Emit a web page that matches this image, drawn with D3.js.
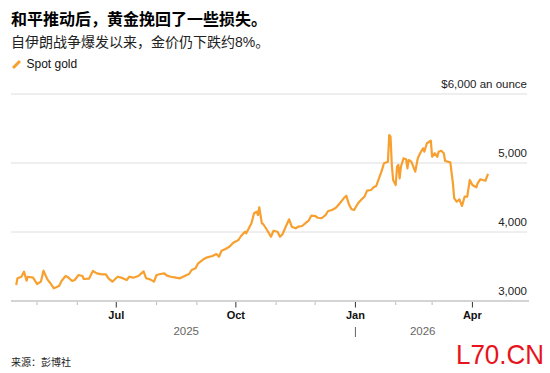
<!DOCTYPE html>
<html><head><meta charset="utf-8">
<script src="https://cdn.jsdelivr.net/npm/d3@7"></script>
<style>
body{margin:0;background:#fff;}
svg{display:block;font-family:"Liberation Sans",Arial,"Noto Sans CJK SC",sans-serif;}
</style></head>
<body><svg id="c" width="550" height="373"></svg>
<script>
const dates = ["2025-04-15","2025-04-16","2025-04-19","2025-04-21","2025-04-23","2025-04-24","2025-04-28","2025-05-01","2025-05-04","2025-05-06","2025-05-09","2025-05-11","2025-05-14","2025-05-18","2025-05-20","2025-05-23","2025-05-25","2025-05-28","2025-05-30","2025-06-02","2025-06-05","2025-06-06","2025-06-10","2025-06-13","2025-06-16","2025-06-20","2025-06-23","2025-06-25","2025-06-28","2025-07-02","2025-07-05","2025-07-09","2025-07-11","2025-07-14","2025-07-18","2025-07-22","2025-07-24","2025-07-27","2025-07-30","2025-08-01","2025-08-04","2025-08-07","2025-08-09","2025-08-12","2025-08-16","2025-08-19","2025-08-23","2025-08-26","2025-08-28","2025-08-31","2025-09-02","2025-09-06","2025-09-09","2025-09-13","2025-09-16","2025-09-18","2025-09-20","2025-09-23","2025-09-26","2025-09-29","2025-10-03","2025-10-05","2025-10-08","2025-10-09","2025-10-11","2025-10-13","2025-10-15","2025-10-17","2025-10-18","2025-10-19","2025-10-21","2025-10-22","2025-10-25","2025-10-28","2025-10-30","2025-11-02","2025-11-04","2025-11-06","2025-11-08","2025-11-11","2025-11-13","2025-11-16","2025-11-18","2025-11-21","2025-11-24","2025-11-26","2025-11-28","2025-12-01","2025-12-03","2025-12-06","2025-12-09","2025-12-11","2025-12-14","2025-12-17","2025-12-20","2025-12-23","2025-12-25","2025-12-27","2025-12-29","2025-12-31","2026-01-03","2026-01-06","2026-01-08","2026-01-10","2026-01-13","2026-01-15","2026-01-17","2026-01-21","2026-01-23","2026-01-26","2026-01-27","2026-01-28","2026-01-29","2026-01-30","2026-02-01","2026-02-02","2026-02-03","2026-02-04","2026-02-05","2026-02-07","2026-02-09","2026-02-10","2026-02-11","2026-02-13","2026-02-16","2026-02-18","2026-02-20","2026-02-22","2026-02-23","2026-02-25","2026-02-28","2026-03-01","2026-03-03","2026-03-05","2026-03-06","2026-03-08","2026-03-10","2026-03-11","2026-03-15","2026-03-17","2026-03-18","2026-03-20","2026-03-22","2026-03-24","2026-03-26","2026-03-28","2026-03-30","2026-04-01","2026-04-04","2026-04-05","2026-04-07","2026-04-11","2026-04-13"];
const prices = [3232,3329,3352,3425,3294,3352,3338,3246,3280,3439,3314,3265,3184,3217,3294,3362,3343,3290,3304,3377,3362,3319,3323,3435,3401,3387,3387,3329,3280,3352,3338,3304,3352,3338,3362,3430,3329,3314,3280,3377,3391,3401,3367,3352,3338,3329,3367,3391,3449,3474,3546,3604,3633,3652,3681,3642,3729,3754,3787,3845,3884,3942,4004,3981,4054,4126,4271,4294,4246,4358,4126,4116,4029,3932,4019,4004,3932,3971,4062,4184,4077,4054,4077,4087,4135,4164,4236,4232,4207,4199,4246,4304,4319,4352,4416,4488,4526,4401,4329,4319,4416,4478,4512,4599,4609,4648,4667,4874,4996,5019,5406,5381,4971,4754,4681,4946,4971,4778,4946,5068,5054,4923,5043,5019,4874,5068,5149,5213,5164,5286,5323,5091,5141,5091,5164,5178,5141,5029,5010,4706,4488,4439,4474,4377,4512,4512,4754,4681,4648,4706,4764,4743,4841];
const yTicks = [3000,4000,5000,6000];
const yTickLabels = ["3,000","4,000","5,000","$6,000 an ounce"];
const majorMonths = ["2025-07-01","2025-10-01","2026-01-01","2026-04-01"];
const majorLabels = ["Jul","Oct","Jan","Apr"];
const years = ["2025","2026"];

const parse = d3.timeParse("%Y-%m-%d");
const data = dates.map((d,i)=>({date:parse(d), v:prices[i]}));
const svg = d3.select("#c");
const x = d3.scaleTime().domain([parse("2025-04-11"), parse("2026-05-13")]).range([11,527]);
const y = d3.scaleLinear().domain([3000,6000]).range([301,94]);

// title
svg.append("text").attr("x",11).attr("y",25).attr("font-size",16).attr("font-weight","bold").attr("fill","#000")
  .text("和平推动后，黄金挽回了一些损失。");
svg.append("text").attr("x",11).attr("y",47).attr("font-size",14).attr("fill","#222")
  .text("自伊朗战争爆发以来，金价仍下跌约8%。");
// legend
svg.append("line").attr("x1",13).attr("y1",68).attr("x2",20).attr("y2",61).attr("stroke","#f7a02f").attr("stroke-width",3);
svg.append("text").attr("x",26.5).attr("y",68).attr("font-size",12).attr("fill","#111").text("Spot gold");

// gridlines
yTicks.forEach((t,i)=>{
  if(t>3000) svg.append("line").attr("x1",11).attr("x2",527).attr("y1",y(t)).attr("y2",y(t)).attr("stroke","#dedede").attr("stroke-width",1);
  svg.append("text").attr("x",527).attr("y",y(t)-6.5).attr("text-anchor","end").attr("font-size",11.5).attr("fill","#222").text(yTickLabels[i]);
});

// x axis baseline
svg.append("line").attr("x1",11).attr("x2",529).attr("y1",301).attr("y2",301).attr("stroke","#d4d4d4").attr("stroke-width",2);
const months = d3.timeMonth.range(parse("2025-05-01"), parse("2026-04-02"));
const majorSet = new Set(majorMonths);
const fmt = d3.timeFormat("%Y-%m-%d");
months.forEach(m=>{
  const maj = majorSet.has(fmt(m));
  svg.append("line").attr("x1",x(m)).attr("x2",x(m)).attr("y1",302).attr("y2",maj?307.5:305)
    .attr("stroke",maj?"#333":"#bbb").attr("stroke-width",1);
});
majorMonths.forEach((m,i)=>{
  svg.append("text").attr("x",x(parse(m))).attr("y",319).attr("text-anchor","middle").attr("font-size",11).attr("font-weight","bold").attr("fill","#111").text(majorLabels[i]);
});
const jan = parse("2026-01-01");
svg.append("text").attr("x",(x.range()[0]+x(jan))/2+3).attr("y",334.5).attr("text-anchor","middle").attr("font-size",11.5).attr("fill","#666").text(years[0]);
svg.append("text").attr("x",(x(jan)+x(data[data.length-1].date))/2+1).attr("y",334.5).attr("text-anchor","middle").attr("font-size",11.5).attr("fill","#666").text(years[1]);
svg.append("line").attr("x1",x(jan)).attr("x2",x(jan)).attr("y1",327).attr("y2",337).attr("stroke","#666").attr("stroke-width",1);

// line
const line = d3.line().x(d=>x(d.date)).y(d=>y(d.v));
svg.append("path").datum(data).attr("d",line).attr("fill","none").attr("stroke","#f7a02f").attr("stroke-width",2.2).attr("stroke-linejoin","round");

// source
svg.append("text").attr("x",11).attr("y",366).attr("font-size",10).attr("fill","#222").text("来源：彭博社");
// watermark
svg.append("text").attr("x",456).attr("y",364).attr("font-size",28).attr("fill","#e8141b").attr("textLength",88).attr("lengthAdjust","spacingAndGlyphs").text("L70.CN");
</script></body></html>
